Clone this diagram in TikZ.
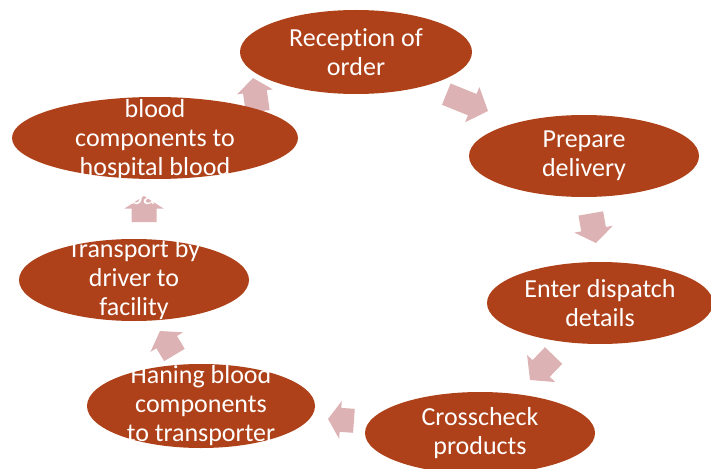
\documentclass[tikz,border=0pt]{standalone}
\usepackage{fontspec}
\setmainfont{Carlito}[Ligatures=NoCommon]
\usetikzlibrary{shapes.geometric}
\definecolor{ellred}{RGB}{174,65,25}
\definecolor{arrpink}{RGB}{221,178,180}
\newcommand\barrow[7]{% tip x, tip y, angle, length, half shaft, half head, head length
  \fill[arr, shift={(#1,#2)}, rotate=#3] (0,0) -- (-#7,#6) -- (-#7,#5) -- (-#4,#5) -- (-#4,-#5) -- (-#7,-#5) -- (-#7,-#6) -- cycle;}
\begin{document}
\begin{tikzpicture}[x=1pt,y=-1pt,
  ell/.style={ellipse, fill=ellred, inner sep=0pt, outer sep=0pt},
  lbl/.style={text=white, align=center, inner sep=0pt, font=\fontsize{26}{29}\selectfont},
  arr/.style={fill=arrpink}]
\useasboundingbox (0,0) rectangle (711,468);
\clip (0,0) rectangle (711,468);
% block arrows
\barrow{488}{111}{-22}{45}{11.5}{19}{17}
\barrow{596}{243}{-80}{30}{12.5}{19.5}{14}
\barrow{530}{380}{226}{34}{12}{19.5}{16}
\barrow{328}{419}{176}{26}{12}{19}{12.5}
\barrow{160}{331}{121}{28}{12}{19}{13}
\barrow{144}{196}{90}{26}{12.5}{19.5}{12.5}
\barrow{253}{78}{98}{34}{12}{18}{14}
% ellipses
\node[ell, minimum width=232pt, minimum height=84pt] (n1) at (356,52) {};
\node[ell, minimum width=230pt, minimum height=82pt] (n2) at (584,156) {};
\node[ell, minimum width=226pt, minimum height=82pt] (n3) at (600,303) {};
\node[ell, minimum width=230pt, minimum height=82pt] (n4) at (480,433) {};
\node[ell, minimum width=228pt, minimum height=84pt] (n5) at (201,406) {};
\node[ell, minimum width=230pt, minimum height=82pt] (n6) at (134,280) {};
\node[ell, minimum width=286pt, minimum height=82pt] (n7) at (155,138) {};
% labels
\node[lbl] (t1) at (n1) {Reception of\\order};
\node[lbl] (t2) at (n2) {Prepare\\delivery};
\node[lbl] (t3) at (n3) {Enter dispatch\\details};
\node[lbl] (t4) at (n4) {Crosscheck\\products};
\node[lbl] (t5) at (n5) {Haning blood\\components\\to transporter};
\node[lbl] (t6) at (n6) {Transport by\\driver to\\facility};
\node[lbl] (t7) at (155,152) {blood\\components to\\hospital blood\\bank};
\end{tikzpicture}
\end{document}
